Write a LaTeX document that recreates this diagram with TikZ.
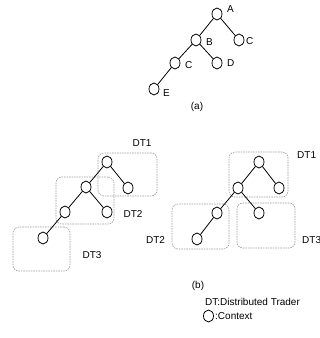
\documentclass[tikz,border=0pt]{standalone}
\usepackage{fontspec}
\setmainfont{Liberation Sans}
\usetikzlibrary{shapes.geometric}
\begin{document}
\begin{tikzpicture}[x=1pt,y=-1pt,
  ctx/.style={draw, ellipse, minimum width=10pt, minimum height=12pt, inner sep=0pt, line width=0.8pt},
  edge/.style={line width=0.8pt},
  dtbox/.style={draw=gray!80, dash pattern=on 1.5pt off 1pt, rounded corners=6pt, line width=0.6pt},
  lbl/.style={font=\fontsize{10}{12}\selectfont, inner sep=0pt}]
\useasboundingbox (0,0) rectangle (320,338);
% tree (a)
\node[ctx] (a) at (217,14) {};
\node[ctx] (b) at (196,40) {};
\node[ctx] (c1) at (239,40) {};
\node[ctx] (c2) at (175,63) {};
\node[ctx] (d) at (217,63) {};
\node[ctx] (e) at (154,89) {};
\draw[edge] (a) -- (b);
\draw[edge] (a) -- (c1);
\draw[edge] (b) -- (c2);
\draw[edge] (b) -- (d);
\draw[edge] (c2) -- (e);
\node[lbl, anchor=west] (la) at (227,9) {A};
\node[lbl, anchor=west] (lb) at (206,42) {B};
\node[lbl, anchor=west] (lc1) at (246,41) {C};
\node[lbl, anchor=west] (lc2) at (185,65) {C};
\node[lbl, anchor=west] (ld) at (227,63) {D};
\node[lbl, anchor=west] (le) at (163,93) {E};
\node[lbl] (capa) at (197,107) {(a)};
% tree (b) left
\node[dtbox, minimum width=59pt, minimum height=43pt] (p1) at (127.5,174.5) {};
\node[dtbox, minimum width=58pt, minimum height=47pt] (p2) at (85,200.5) {};
\node[dtbox, minimum width=57pt, minimum height=44pt] (p3) at (41.5,249) {};
\node[ctx] (r1) at (107,162) {};
\node[ctx] (r2) at (128,188) {};
\node[ctx] (l1) at (86,187) {};
\node[ctx] (l2) at (65,212) {};
\node[ctx] (l3) at (107,212) {};
\node[ctx] (l4) at (43,238) {};
\draw[edge] (r1) -- (l1);
\draw[edge] (r1) -- (r2);
\draw[edge] (l1) -- (l2);
\draw[edge] (l1) -- (l3);
\draw[edge] (l2) -- (l4);
\node[lbl] (pl1) at (142,143) {DT1};
\node[lbl] (pl2) at (133,214) {DT2};
\node[lbl] (pl3) at (92,255) {DT3};
% tree (b) right
\node[dtbox, minimum width=59pt, minimum height=45pt] (q1) at (258.5,174.5) {};
\node[dtbox, minimum width=57pt, minimum height=45pt] (q2) at (200.5,226.5) {};
\node[dtbox, minimum width=58pt, minimum height=45pt] (q3) at (266,225.5) {};
\node[ctx] (s1) at (259,162) {};
\node[ctx] (s2) at (279,188) {};
\node[ctx] (s3) at (238,188) {};
\node[ctx] (s4) at (217,213) {};
\node[ctx] (s5) at (259,213) {};
\node[ctx] (s6) at (197,239) {};
\draw[edge] (s1) -- (s3);
\draw[edge] (s1) -- (s2);
\draw[edge] (s3) -- (s4);
\draw[edge] (s3) -- (s5);
\draw[edge] (s4) -- (s6);
\node[lbl, anchor=west] (ql1) at (297,155) {DT1};
\node[lbl] (ql2) at (155.5,240) {DT2};
\node[lbl, anchor=west] (ql3) at (302,240) {DT3};
% caption and legend
\node[lbl] (capb) at (198,286) {(b)};
\node[lbl, anchor=west] (leg1) at (205,302) {DT:Distributed Trader};
\node[ctx] (legc) at (208.5,316) {};
\node[lbl, anchor=west] (leg2) at (215,316) {:Context};
\end{tikzpicture}
\end{document}
